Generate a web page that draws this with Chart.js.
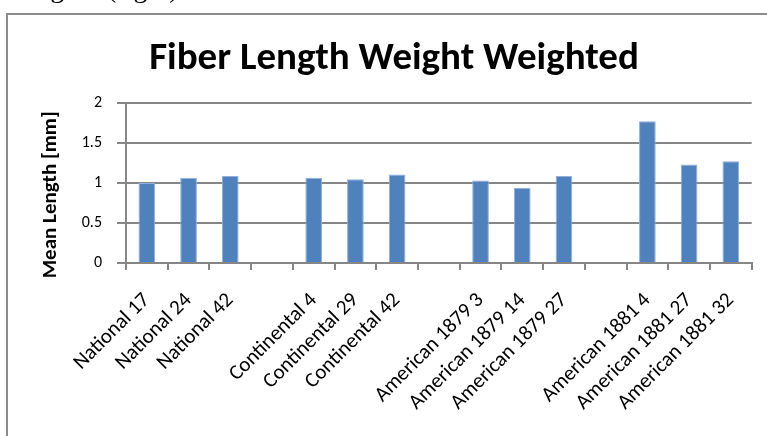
<!DOCTYPE html>
<html>
<head>
<meta charset="utf-8">
<script src="https://cdn.jsdelivr.net/npm/chart.js@4.4.1/dist/chart.umd.min.js"></script>
<style>
  body { margin: 0; background: #fff; }
  #wrap { width: 767px; height: 436px; }
</style>
</head>
<body>
<div id="wrap"><canvas id="chart" width="767" height="436"></canvas></div>
<script>
// data, empty labels are the gaps between groups
var categories = ["National 17", "National 24", "National 42", "",
  "Continental 4", "Continental 29", "Continental 42", "",
  "American 1879 3", "American 1879 14", "American 1879 27", "",
  "American 1881 4", "American 1881 27", "American 1881 32"];
var meanLength = [1.00, 1.065, 1.085, null,
  1.065, 1.045, 1.105, null,
  1.03, 0.94, 1.085, null,
  1.77, 1.23, 1.27];
var yTicks = [0, 0.5, 1, 1.5, 2];

var fontFam = 'Carlito, "Open Sans", sans-serif';
var gridGray = '#868686';

// grey frame and the cut caption line above it
var framePlugin = {
  id: 'frame',
  beforeDraw: function(chart) {
    var ctx = chart.ctx;
    ctx.save();
    ctx.fillStyle = '#fff';
    ctx.fillRect(0, 0, chart.width, chart.height);
    ctx.strokeStyle = '#8c8c8c';
    ctx.lineWidth = 2;
    ctx.strokeRect(7, 14, 800, 500);
    ctx.fillStyle = '#000';
    ctx.font = '28px "Liberation Serif"';
    ctx.textBaseline = 'alphabetic';
    ctx.fillText('Figure (right)', 27, -3);
    ctx.restore();
  }
};

var ctx = document.getElementById('chart').getContext('2d');
var myChart = new Chart(ctx, {
  type: 'bar',
  data: {
    labels: categories,
    datasets: [{
      label: 'Mean Length',
      data: meanLength,
      backgroundColor: '#4f81bd',
      borderColor: '#8fb0da',
      borderWidth: 1,
      categoryPercentage: 1,
      barPercentage: 0.4
    }]
  },
  options: {
    responsive: false,
    animation: false,
    devicePixelRatio: 1,
    layout: { padding: { left: 32, right: 11, top: 0, bottom: 0 } },
    plugins: {
      legend: { display: false },
      tooltip: { enabled: false },
      title: {
        display: true,
        text: 'Fiber Length Weight Weighted',
        color: '#000',
        font: { family: fontFam, size: 39, weight: 'bold' },
        padding: { top: 36, bottom: 20 }
      }
    },
    scales: {
      x: {
        offset: true,
        grid: {
          display: true,
          drawOnChartArea: false,
          drawTicks: true,
          tickLength: 7,
          color: gridGray,
          lineWidth: 2
        },
        border: { display: true, color: gridGray, width: 2 },
        ticks: {
          autoSkip: false,
          maxRotation: 45,
          minRotation: 45,
          color: '#000',
          padding: 18,
          font: { family: fontFam, size: 21 }
        },
        afterFit: function(scale) { scale.height = 173; }
      },
      y: {
        min: 0,
        max: 2,
        afterBuildTicks: function(scale) {
          scale.ticks = yTicks.map(function(v) { return { value: v }; });
        },
        grid: {
          color: gridGray,
          lineWidth: 2,
          tickLength: 9
        },
        border: { display: true, color: gridGray, width: 2 },
        ticks: {
          color: '#000',
          padding: 15,
          font: { family: fontFam, size: 16 },
          callback: function(v) { return String(v); }
        },
        title: {
          display: true,
          // trailing spaces push the centred label a little down, as in the original
          text: 'Mean Length [mm]     ',
          color: '#000',
          font: { family: fontFam, size: 21, weight: 'bold' },
          padding: { top: 6, bottom: 0 }
        },
        afterFit: function(scale) { scale.width = 94; }
      }
    }
  },
  plugins: [framePlugin]
});
</script>
</body>
</html>
